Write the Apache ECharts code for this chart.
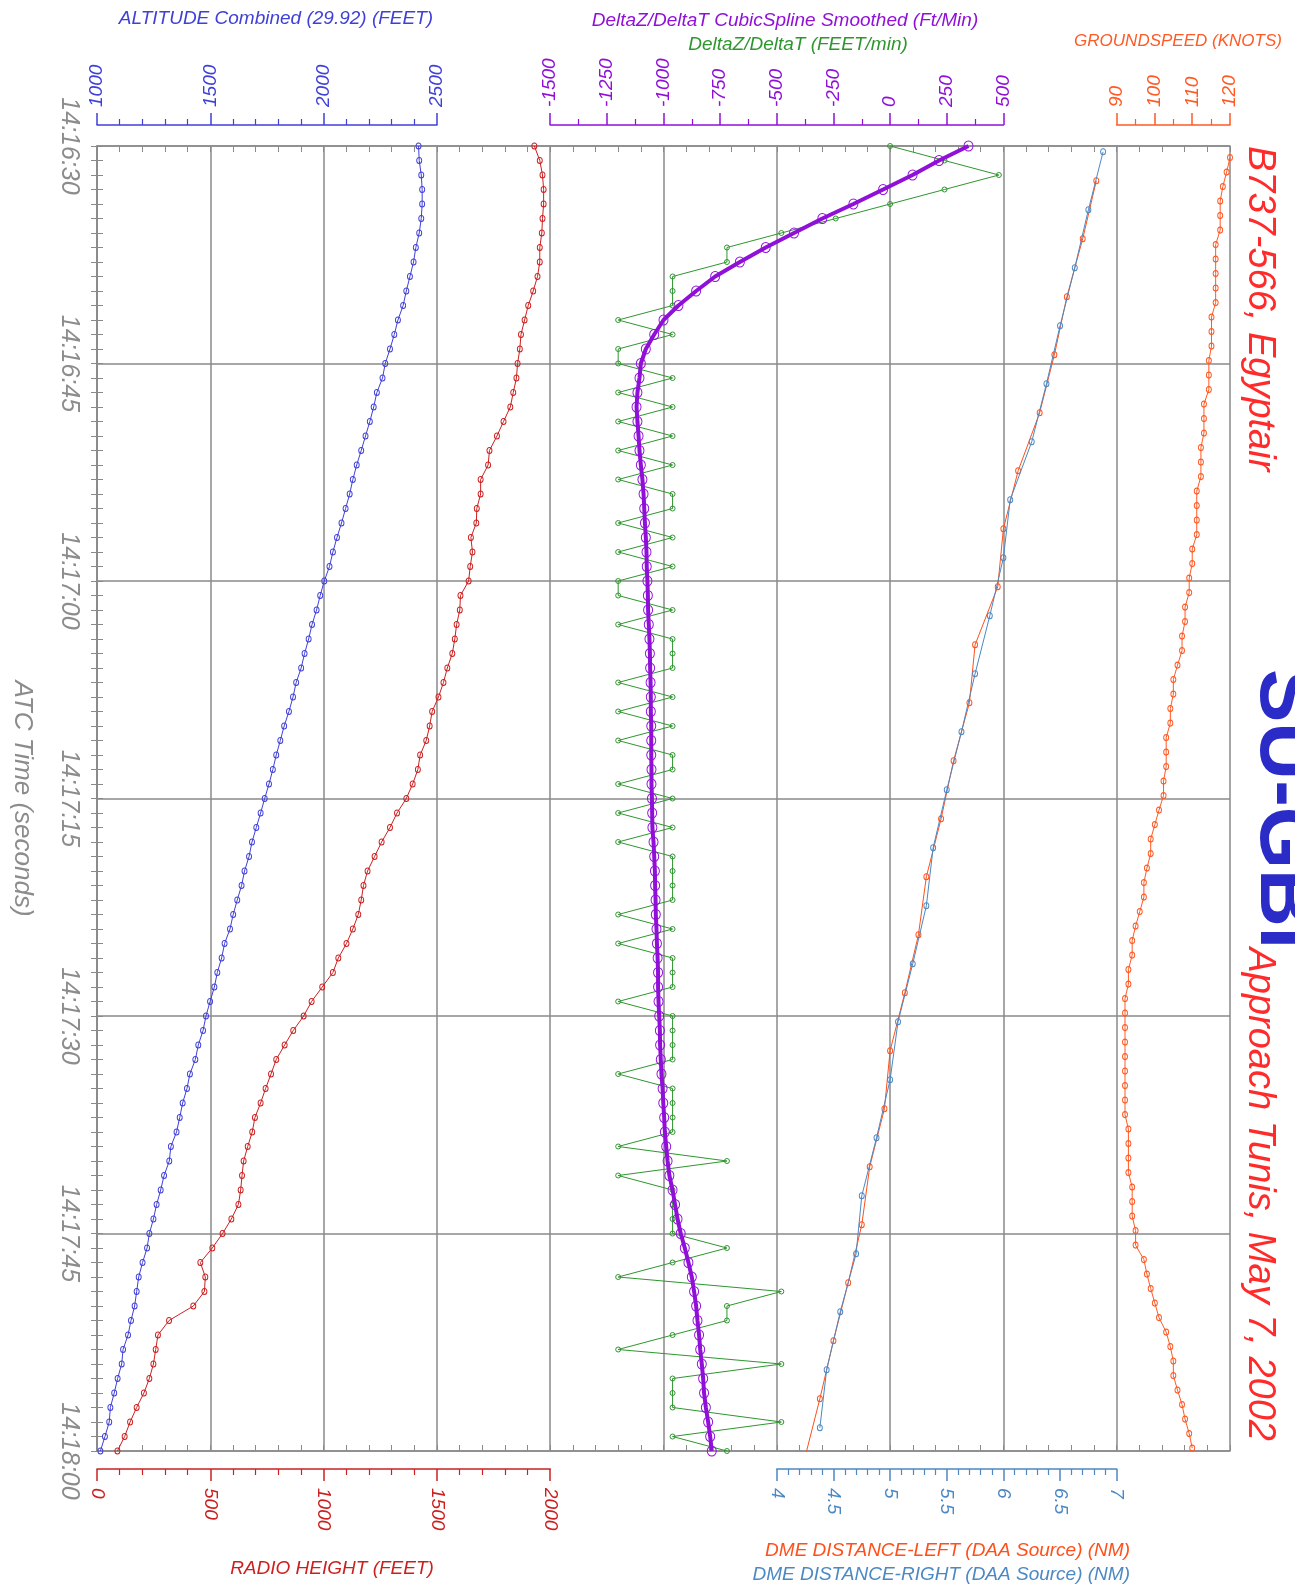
<!DOCTYPE html>
<html><head><meta charset="utf-8">
<script src="https://cdn.jsdelivr.net/npm/echarts@6/dist/echarts.min.js"></script>
<style>html,body{margin:0;padding:0;background:#fff;}#c{width:1295px;height:1596px;}</style>
</head><body><div id="c"></div>
<script>
// ---- DATA ----
const timeTicks = ['14:16:30','14:16:45','14:17:00','14:17:15','14:17:30','14:17:45','14:18:00'];
// one sample per second from 14:16:30 (t = 0..90 s)
const altitude = [2419,2422,2431,2435,2435,2431,2422,2407,2397,2381,
 2365,2351,2328,2312,2293,2272,2260,2235,2221,2204,
 2185,2166,2146,2129,2115,2097,2079,2059,2041,2026,
 2003,1985,1969,1949,1934,1916,1901,1879,1865,1847,
 1826,1809,1791,1776,1759,1740,1722,1703,1684,1671,
 1651,1638,1619,1601,1587,1563,1550,1531,1518,1499,
 1481,1468,1447,1434,1410,1397,1378,1365,1351,1326,
 1319,1296,1281,1263,1249,1231,1221,1201,1184,1175,
 1166,1150,1137,1115,1109,1091,1076,1059,1054,1035,
 1015];
const radioHeight = [1930,1954,1966,1971,1971,1966,1963,1954,1954,1944,
 1925,1903,1887,1871,1866,1856,1851,1837,1824,1794,
 1765,1732,1726,1693,1693,1676,1674,1650,1657,1647,
 1640,1604,1601,1587,1579,1568,1546,1529,1507,1479,
 1468,1453,1426,1416,1393,1365,1324,1293,1256,1225,
 1194,1176,1166,1153,1129,1101,1065,1041,994,947,
 912,866,828,791,768,744,722,697,685,665,
 647,640,634,624,593,554,509,456,478,474,
 425,318,269,259,249,231,207,175,146,122,
 90];
const deltaZ = [0,240,480,240,0,-240,-480,-720,-720,-960,
 -960,-960,-1200,-960,-1200,-1200,-960,-1200,-960,-1200,
 -960,-1200,-960,-1200,-960,-960,-1200,-960,-1200,-960,
 -1200,-1200,-960,-1200,-960,-960,-960,-1200,-960,-1200,
 -960,-1200,-960,-960,-1200,-960,-1200,-960,-1200,-960,
 -960,-960,-960,-1200,-960,-1200,-960,-960,-960,-1200,
 -960,-960,-960,-960,-1200,-960,-960,-960,-960,-1200,
 -720,-1200,-960,-960,-960,-960,-720,-960,-1200,-480,
 -720,-720,-960,-1200,-480,-960,-960,-960,-480,-960,
 -720];
const deltaZSmooth = [346,216,99,-31,-162,-299,-424,-549,-663,-772,
 -856,-934,-1000,-1041,-1078,-1100,-1106,-1115,-1119,-1115,
 -1110,-1106,-1100,-1093,-1088,-1085,-1082,-1078,-1075,-1074,
 -1071,-1069,-1068,-1065,-1062,-1060,-1059,-1057,-1056,-1056,
 -1054,-1054,-1054,-1053,-1053,-1051,-1050,-1049,-1044,-1041,
 -1038,-1037,-1035,-1034,-1031,-1029,-1026,-1024,-1024,-1022,
 -1019,-1016,-1015,-1012,-1009,-1004,-1001,-997,-994,-988,
 -982,-974,-960,-949,-938,-924,-906,-890,-875,-865,
 -856,-850,-843,-838,-831,-825,-821,-813,-803,-794,
 -787];
// groundspeed: one sample per second starting at t = 0.8 s
const gsStart = 0.8;
const groundspeed = [120.0,119.1,118.1,117.4,117.4,117.4,116.2,116.2,116.2,116.2,
 116.2,115.1,115.1,115.1,114.4,114.4,114.4,113.1,113.1,113.1,
 112.3,112.3,112.3,111.2,111.2,111.2,111.2,110.0,110.0,109.2,
 109.2,108.1,108.1,107.3,107.3,106.1,105.0,105.0,104.2,104.2,
 103.1,103.1,103.1,102.4,102.4,101.2,100.1,99.0,99.0,98.0,
 97.2,97.2,96.1,95.0,94.1,94.1,93.1,93.1,92.2,92.2,
 92.2,92.2,92.2,92.2,92.2,92.2,92.2,93.1,93.1,93.1,
 93.1,94.1,94.1,94.1,95.0,95.0,97.2,98.0,99.0,100.1,
 101.2,103.1,104.2,105.0,105.0,106.1,107.3,108.1,109.2,110.0];
const dmeLeftTime = [2.4,6.4,10.4,14.4,18.4,22.4,26.4,30.4,34.4,38.4,42.4,46.4,50.4,54.4,58.4,62.4,66.4,70.4,74.4,78.4,82.4,86.4,90.4];
const dmeLeft = [6.82,6.70,6.56,6.45,6.32,6.13,6.00,5.95,5.75,5.70,5.56,5.45,5.32,5.25,5.13,5.00,4.95,4.82,4.75,4.63,4.50,4.38,4.25];
const dmeRightTime = [0.4,4.4,8.4,12.4,16.4,20.4,24.4,28.4,32.4,36.4,40.4,44.4,48.4,52.4,56.4,60.4,64.4,68.4,72.4,76.4,80.4,84.4,88.4];
const dmeRight = [6.88,6.75,6.63,6.50,6.38,6.25,6.06,6.00,5.88,5.75,5.63,5.50,5.38,5.32,5.20,5.07,5.00,4.88,4.75,4.70,4.56,4.44,4.38];

// ---- STYLE / LAYOUT ----
const FONT = 'Liberation Sans';
const GRAY = '#8a8a8a';
const C = {alt:'#4040d8', rh:'#cc2020', pur:'#9010d8', grn:'#2e962e', gs:'#ff5a24', dmeL:'#ff4f1a', dmeR:'#4c88c4', title:'#ff2a2a', big:'#2b2bc8', time:'#8c8c8c'};
const L = 97, T = 146, W = 1133, H = 1305, DIV = W / 10;
function g(s, n){ return {left: L + s*DIV, top: T, width: n*DIV, height: H}; }

const labelStyle = c => ({show:true, rotate:-90, color:c, fontSize:19, fontFamily:FONT, fontStyle:'italic', formatter: v => String(v)});
function valAxis(gi, pos, min, max, interval, minorSplit, color, offset, margin){
  const a = labelStyle(color); a.margin = margin;
  return {type:'value', gridIndex:gi, position:pos, offset:offset, min:min, max:max, interval:interval,
    axisLine:{show:true, onZero:false, lineStyle:{color:color, width:1.5}},
    axisTick:{show:true, length:12, lineStyle:{color:color, width:1.5}},
    minorTick:{show:true, splitNumber:minorSplit, length:6, lineStyle:{color:color, width:1.2}},
    splitLine:{show:false}, minorSplitLine:{show:false}, axisLabel:a};
}
function frameX(pos, split){
  return {type:'value', gridIndex:0, position:pos, min:0, max:10, interval:1,
    axisLine:{show:true, onZero:false, lineStyle:{color:GRAY, width:1.5}},
    axisTick:{show:true, inside:true, length:6, lineStyle:{color:GRAY}},
    minorTick:{show:true, splitNumber:5, length:6, lineStyle:{color:GRAY}},
    axisLabel:{show:false}, splitLine:{show:split, lineStyle:{color:GRAY, width:1.5}}};
}
function hiddenY(gi){ return {type:'value', gridIndex:gi, min:0, max:90, inverse:true, show:false}; }

function lineSeries(name, axisIdx, data, color, size, width, z){
  return {name:name, type:'line', xAxisIndex:axisIdx, yAxisIndex:axisIdx, data:data, z:z,
    symbol:'circle', symbolSize:size, showSymbol:true, animation:false,
    lineStyle:{color:color, width:width},
    itemStyle:{color:'rgba(255,255,255,0)', borderColor:color, borderWidth:1},
    emphasis:{disabled:true}};
}

function txt(str, x, y, opts){
  return Object.assign({type:'text', x:x, y:y, silent:true,
    style:Object.assign({text:str, fontFamily:FONT, fontStyle:'italic', fontSize:19, align:'center', verticalAlign:'middle'}, opts.style)},
    opts.el || {});
}

const option = {
  animation:false,
  backgroundColor:'#ffffff',
  grid:[g(0,10), g(0,3), g(0,4), g(4,4), g(6,3), g(9,1)],
  xAxis:[
    frameX('bottom', true),
    frameX('top', false),
    valAxis(1,'top',1000,2500,500,5,C.alt,21,18),
    valAxis(2,'bottom',0,2000,500,5,C.rh,18,19),
    valAxis(3,'top',-1500,500,250,2,C.pur,21,18),
    valAxis(4,'bottom',4,7,0.5,5,C.dmeR,18,19),
    valAxis(5,'top',90,120,10,2,C.gs,21,18)
  ],
  yAxis:[
    {type:'value', gridIndex:0, position:'left', min:0, max:90, interval:15, inverse:true,
      axisLine:{show:true, lineStyle:{color:GRAY, width:1.5}},
      axisTick:{show:true, inside:true, length:6, lineStyle:{color:GRAY}},
      minorTick:{show:true, splitNumber:15, length:6, lineStyle:{color:GRAY}},
      splitLine:{show:true, lineStyle:{color:GRAY, width:1.5}},
      axisLabel:{rotate:-90, margin:16, color:C.time, fontSize:25, fontFamily:FONT, fontStyle:'italic',
        formatter: v => timeTicks[Math.round(v/15)]},
      name:'ATC Time (seconds)', nameLocation:'middle', nameRotate:-90, nameGap:62,
      nameTextStyle:{color:C.time, fontSize:26, fontFamily:FONT, fontStyle:'italic'}},
    {type:'value', gridIndex:0, position:'right', min:0, max:90, interval:15, inverse:true,
      axisLine:{show:true, lineStyle:{color:GRAY, width:1.5}},
      axisTick:{show:true, inside:true, length:6, lineStyle:{color:GRAY}},
      minorTick:{show:true, splitNumber:15, length:6, lineStyle:{color:GRAY}},
      splitLine:{show:false}, axisLabel:{show:false}},
    hiddenY(1), hiddenY(2), hiddenY(3), hiddenY(4), hiddenY(5)
  ],
  series:[
    lineSeries('RADIO HEIGHT', 3, radioHeight.map((v,i)=>[v,i]), C.rh, [5,6], 1, 3),
    lineSeries('ALTITUDE', 2, altitude.map((v,i)=>[v,i]), C.alt, [5,6], 1, 3),
    lineSeries('DeltaZ/DeltaT', 4, deltaZ.map((v,i)=>[v,i]), C.grn, [5,5], 1, 3),
    lineSeries('DeltaZ/DeltaT Smoothed', 4, deltaZSmooth.map((v,i)=>[v,i]), C.pur, [9,10], 4, 4),
    lineSeries('DME LEFT', 5, dmeLeft.map((v,i)=>[v,dmeLeftTime[i]]), C.dmeL, [5,6], 1, 3),
    lineSeries('DME RIGHT', 5, dmeRight.map((v,i)=>[v,dmeRightTime[i]]), C.dmeR, [5,6], 1, 4),
    lineSeries('GROUNDSPEED', 6, groundspeed.map((v,i)=>[v,gsStart+i]), C.gs, [5,6], 1, 3)
  ],
  graphic:[
    txt('ALTITUDE Combined (29.92) (FEET)', 276, 19, {style:{fill:C.alt}}),
    txt('DeltaZ/DeltaT CubicSpline Smoothed (Ft/Min)', 785, 21, {style:{fill:C.pur}}),
    txt('DeltaZ/DeltaT (FEET/min)', 798, 45, {style:{fill:C.grn}}),
    txt('GROUNDSPEED (KNOTS)', 1178, 41, {style:{fill:C.gs, fontSize:17}}),
    txt('RADIO HEIGHT (FEET)', 332, 1569, {style:{fill:C.rh}}),
    txt('DME DISTANCE-LEFT (DAA Source) (NM)', 1130, 1551, {style:{fill:C.dmeL, align:'right'}}),
    txt('DME DISTANCE-RIGHT (DAA Source) (NM)', 1130, 1575, {style:{fill:C.dmeR, align:'right'}}),
    txt('B737-566, Egyptair', 1260, 146, {style:{fill:C.title, fontSize:38, align:'left'}, el:{rotation:-Math.PI/2}}),
    txt('Approach Tunis, May 7, 2002', 1260, 1441, {style:{fill:C.title, fontSize:38, align:'right'}, el:{rotation:-Math.PI/2}}),
    txt('SU-GBI', 1283, 809, {style:{fill:C.big, fontSize:80, fontStyle:'normal', fontWeight:'bold'}, el:{rotation:-Math.PI/2}})
  ]
};
const chart = echarts.init(document.getElementById('c'), null, {renderer:'canvas', width:1295, height:1596});
chart.setOption(option);
</script>
</body></html>
